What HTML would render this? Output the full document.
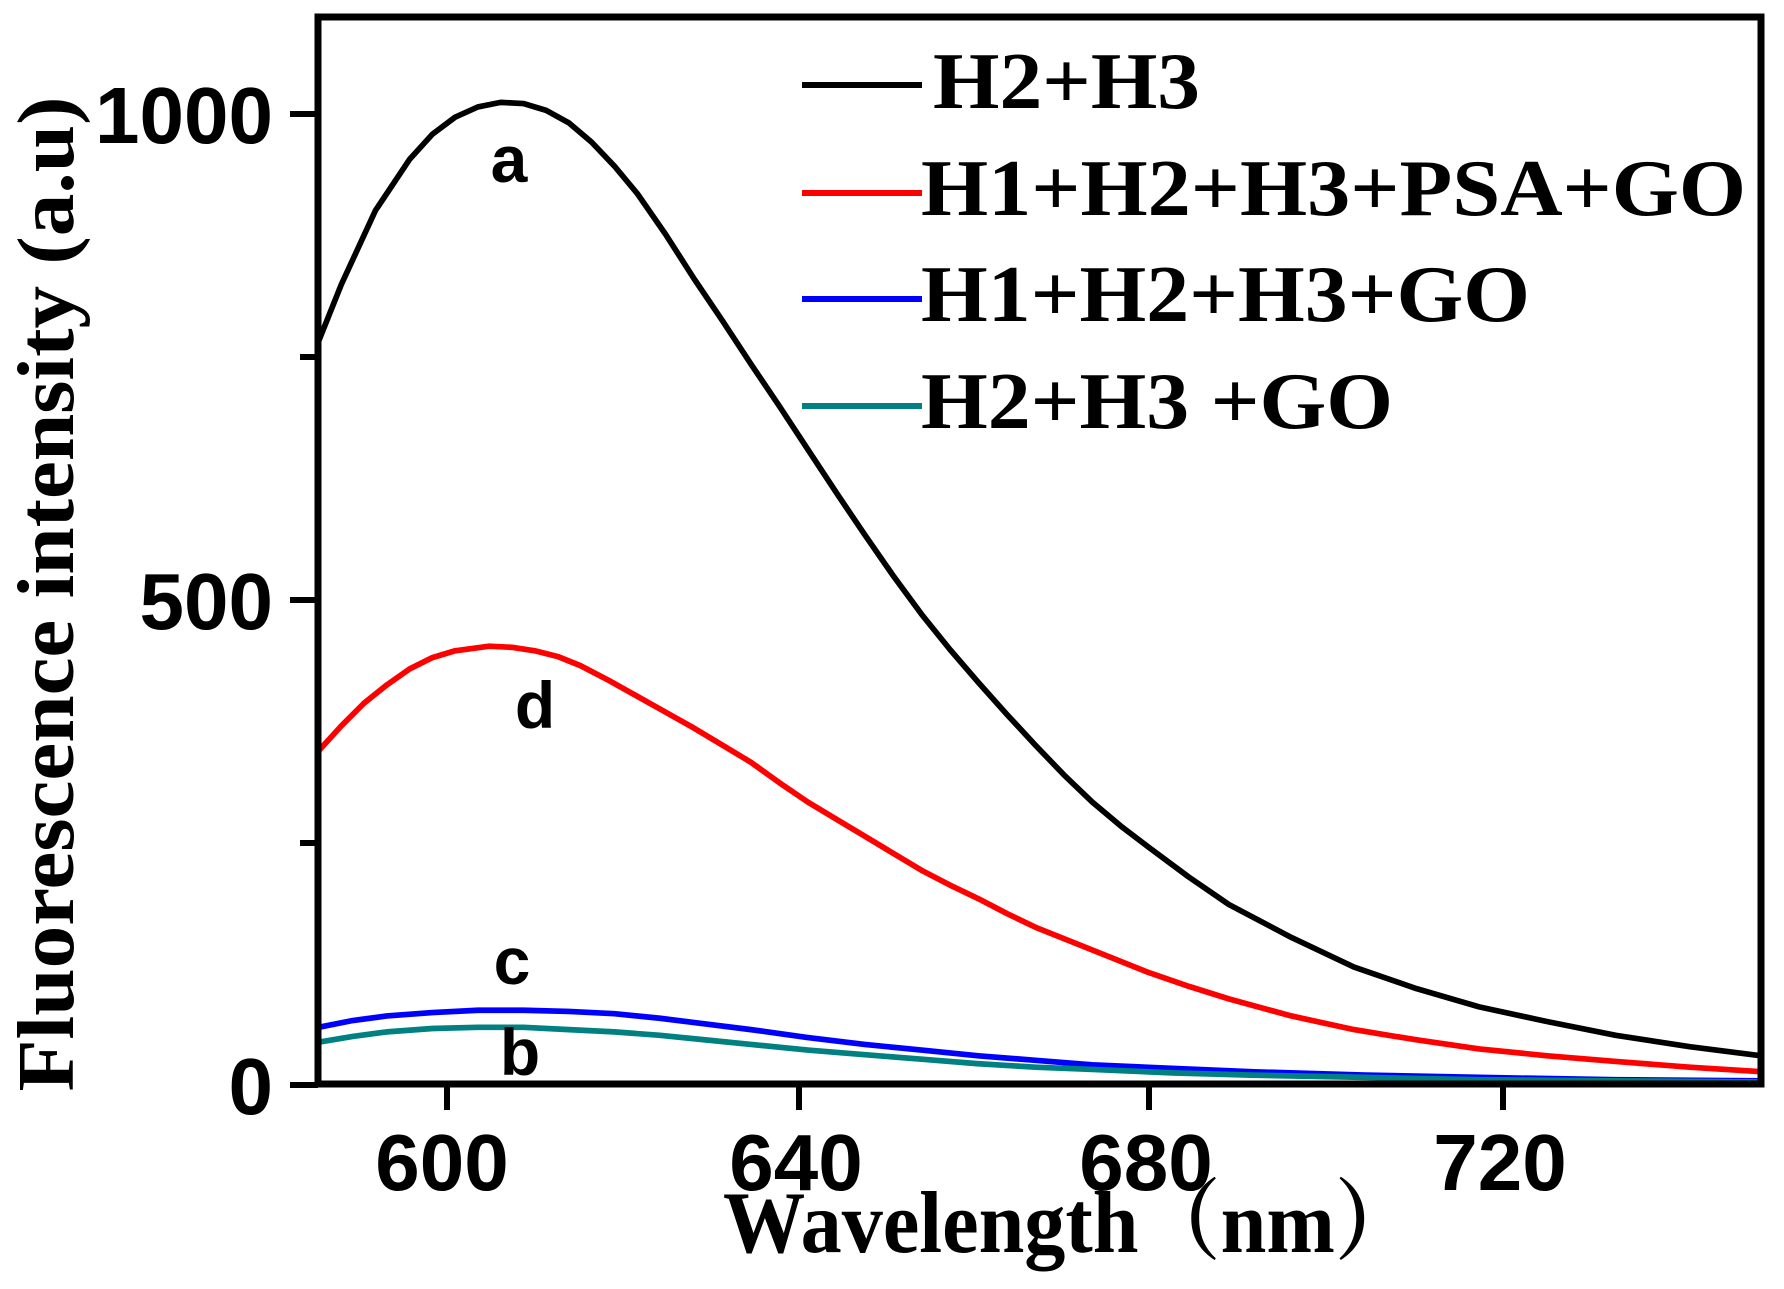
<!DOCTYPE html>
<html><head><style>body{margin:0;background:#fff}svg{display:block}</style></head><body>
<svg width="1784" height="1289" viewBox="0 0 1784 1289" xmlns="http://www.w3.org/2000/svg">
<defs><clipPath id="c"><rect x="318" y="17" width="1445" height="1068"/></clipPath></defs>
<g clip-path="url(#c)">
<g transform="scale(1.1378,1.1377)" fill="none" stroke-width="5" stroke-linejoin="round" stroke-linecap="round">
<polyline stroke="#000" points="280,300 300,250 330,185 360,140 380,118 400,103 420,94 440,90 460,91 480,97 500,108 520,125 540,146 560,170 585,206 610,245 635,282 660,320 685,357 710,395 735,433 760,470 785,506 810,540 835,571 860,600 885,628 910,655 935,681 960,705 985,726 1010,745 1045,771 1080,795 1135,824 1190,850 1245,869 1300,885 1360,898 1420,910 1485,920 1548,928"/>
<polyline stroke="#f00" points="280,660 300,638 320,618 340,602 360,588 380,578 400,572 430,568 450,569 470,572 490,577 510,585 535,598 560,612 585,626 610,640 635,655 660,670 685,688 710,705 735,720 760,735 785,750 810,765 835,778 860,790 885,803 910,815 935,825 960,835 985,845 1010,855 1045,867 1080,878 1135,893 1190,905 1245,914 1300,922 1360,928 1420,933 1485,938 1548,942"/>
<polyline stroke="#00f" points="280,903 310,897 340,893 380,890 420,888 460,888 500,889 540,891 580,895 620,900 660,905 710,912 760,918 810,923 860,928 910,932 960,936 1030,939 1100,942 1200,945 1300,947 1420,949 1548,950"/>
<polyline stroke="#008080" points="280,916 310,911 340,907 380,904 420,903 460,903 500,905 540,907 580,910 620,914 660,918 710,923 760,927 810,931 860,935 910,938 960,940 1030,943 1100,945 1200,947 1300,949 1420,950 1548,951"/>
</g></g>
<rect x="318" y="17" width="1443" height="1067" fill="none" stroke="#000" stroke-width="7"/>
<g stroke="#000" stroke-width="6">
<line x1="290" y1="114" x2="318" y2="114"/><line x1="300" y1="357" x2="318" y2="357"/>
<line x1="290" y1="600" x2="318" y2="600"/><line x1="300" y1="843" x2="318" y2="843"/>
<line x1="290" y1="1085" x2="318" y2="1085"/>
<line x1="447" y1="1085" x2="447" y2="1110"/><line x1="799" y1="1085" x2="799" y2="1110"/>
<line x1="1149" y1="1085" x2="1149" y2="1110"/><line x1="1503" y1="1085" x2="1503" y2="1110"/>
</g>
<g font-family="Liberation Sans, sans-serif" font-weight="bold" font-size="80" fill="#000">
<text x="273" y="143" text-anchor="end">1000</text>
<text x="273" y="629" text-anchor="end">500</text>
<text x="273" y="1114" text-anchor="end">0</text>
<text x="442" y="1190" text-anchor="middle">600</text>
<text x="796" y="1190" text-anchor="middle">640</text>
<text x="1146" y="1190" text-anchor="middle">680</text>
<text x="1500" y="1190" text-anchor="middle">720</text>
<g font-size="66" text-anchor="middle">
<text x="509" y="182">a</text><text x="535" y="728">d</text><text x="512" y="984">c</text><text x="520" y="1075">b</text>
</g></g>
<g font-family="Liberation Serif, 'Noto Serif CJK SC', serif" font-weight="bold" fill="#000">
<text x="1070" y="1252" font-size="88" text-anchor="middle" textLength="694" lengthAdjust="spacingAndGlyphs">Wavelength（nm）</text>
<text transform="translate(73,594) rotate(-90)" font-size="80" text-anchor="middle" textLength="995" lengthAdjust="spacingAndGlyphs">Fluorescence intensity (a.u)</text>
<g font-size="80">
<text x="933" y="108" textLength="267" lengthAdjust="spacingAndGlyphs">H2+H3</text>
<text x="921" y="215" textLength="825" lengthAdjust="spacingAndGlyphs">H1+H2+H3+PSA+GO</text>
<text x="921" y="321" textLength="609" lengthAdjust="spacingAndGlyphs">H1+H2+H3+GO</text>
<text x="921" y="428" textLength="472" lengthAdjust="spacingAndGlyphs">H2+H3 +GO</text>
</g></g>
<g stroke-width="6">
<line x1="802" y1="85" x2="922" y2="85" stroke="#000"/>
<line x1="802" y1="193" x2="922" y2="193" stroke="#f00"/>
<line x1="802" y1="299" x2="922" y2="299" stroke="#00f"/>
<line x1="802" y1="406" x2="922" y2="406" stroke="#008080"/>
</g>
</svg>
</body></html>
